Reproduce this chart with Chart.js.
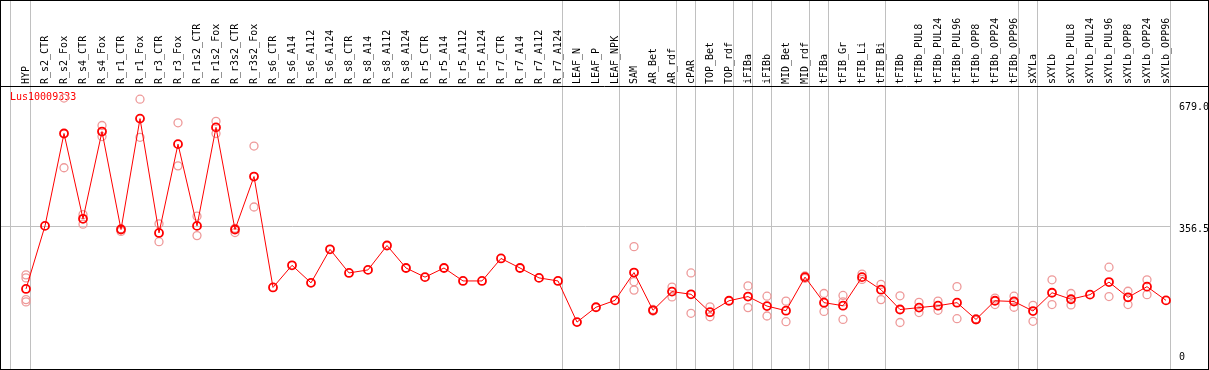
<!DOCTYPE html>
<html>
<head>
<meta charset="utf-8">
<script src="https://cdn.jsdelivr.net/npm/chart.js@4"></script>
<style>
  html, body { margin: 0; padding: 0; background: #fff; }
  canvas { display: block; }
</style>
</head>
<body>
<canvas id="geneChart" width="1209" height="370"></canvas>
<script>
// sample names along the top
const categories = ['HYP', 'R_s2_CTR', 'R_s2_Fox', 'R_s4_CTR', 'R_s4_Fox', 'R_r1_CTR', 'R_r1_Fox',
  'R_r3_CTR', 'R_r3_Fox', 'R_r1s2_CTR', 'R_r1s2_Fox', 'R_r3s2_CTR', 'R_r3s2_Fox', 'R_s6_CTR',
  'R_s6_A14', 'R_s6_A112', 'R_s6_A124', 'R_s8_CTR', 'R_s8_A14', 'R_s8_A112', 'R_s8_A124',
  'R_r5_CTR', 'R_r5_A14', 'R_r5_A112', 'R_r5_A124', 'R_r7_CTR', 'R_r7_A14', 'R_r7_A112', 'R_r7_A124',
  'LEAF_N', 'LEAF_P', 'LEAF_NPK', 'SAM', 'AR_Bet', 'AR_rdf', 'cPAR', 'TOP_Bet', 'TOP_rdf',
  'iFIBa', 'iFIBb', 'MID_Bet', 'MID_rdf', 'tFIBa', 'tFIB_Gr', 'tFIB_Li', 'tFIB_Bi', 'tFIBb',
  'tFIBb_PUL8', 'tFIBb_PUL24', 'tFIBb_PUL96', 'tFIBb_OPP8', 'tFIBb_OPP24', 'tFIBb_OPP96',
  'sXYLa', 'sXYLb', 'sXYLb_PUL8', 'sXYLb_PUL24', 'sXYLb_PUL96', 'sXYLb_OPP8', 'sXYLb_OPP24', 'sXYLb_OPP96'];

// mean expression (red line)
const meanValues = [191, 356.5, 599, 375, 604, 347, 638, 338, 571, 356.5, 615, 347, 486, 195,
  253, 207, 295, 233, 241, 305, 246, 222, 246, 212, 212, 271, 246, 220, 212,
  104, 143, 161, 234, 135, 184, 177, 130, 160, 171, 146, 134, 222, 155, 147, 222, 189, 137,
  142, 147, 155, 111, 160, 158, 133, 181, 164, 176, 209, 169, 197, 161];

// replicates (pale circles)
const rep1 = [228, null, 692, 386, 620, 349, 689, 362, 627, 382, 631, 350, 566, null,
  null, null, null, null, null, null, null, null, null, null, null, null, null, null, null,
  null, null, null, 302, 137, 196, 233, 144, null, 199, 172, 159, 225, 179, 174, 230, 203, 173,
  156, 159, 197, 113, 167, 172, 148, 215, 179, null, 248, 185, 215, null];
const rep2 = [157, null, 509, 361, 591, 342, 589, 315, 514, 331, 599, 339, 406, null,
  null, null, null, null, null, null, null, null, null, null, null, null, null, null, null,
  null, null, null, 188, 133, 170, 127, 118, null, 142, 120, 105, 219, 132, 111, 216, 163, 103,
  129, 135, 113, 110, 150, 143, 106, 150, 149, null, 171, 150, 176, null];
const rep3 = [220, null, null, null, null, null, null, null, null, null, null, null, null, null,
  null, null, null, null, null, null, null, null, null, null, null, null, null, null, null,
  null, null, null, 210, null, null, null, null, null, null, null, null, null, null, 157, null, null, null,
  null, null, null, null, null, null, null, null, null, null, null, null, null, null];
const rep4 = [163, null, null, null, null, null, null, null, null, null, null, null, null, null,
  null, null, null, null, null, null, null, null, null, null, null, null, null, null, null,
  null, null, null, null, null, null, null, null, null, null, null, null, null, null, null, null, null, null,
  null, null, null, null, null, null, null, null, null, null, null, null, null, null];

// y axis labels (bottom one sits a little below the gene minimum)
const yTicks = [22, 356.5, 679];
const yTickLabels = ['0', '356.5', '679.0'];

// last sample of each tissue group (separator drawn after it)
const groupEnds = [0, 28, 31, 34, 35, 37, 38, 39, 41, 42, 45, 52, 53, 60];

const geneName = 'Lus10009333';
const monoFont = { family: 'DejaVu Sans Mono', size: 10 };

// frame, separators, gene name
const framePlugin = {
    id: 'frame',
    beforeDraw(chart) {
        const ctx = chart.ctx;
        ctx.save();
        ctx.fillStyle = '#fff';
        ctx.fillRect(0, 0, chart.width, chart.height);
        ctx.restore();
    },
    beforeDatasetsDraw(chart) {
        const ctx = chart.ctx;
        const xs = chart.scales.x;
        const ys = chart.scales.y;
        ctx.save();
        ctx.strokeStyle = '#c0c0c0';
        ctx.lineWidth = 1;
        const lines = [xs.getPixelForValue(0) - 16];
        groupEnds.forEach(i => lines.push(xs.getPixelForValue(i) + 4));
        lines.forEach(px => {
            const x = Math.round(px) + 0.5;
            ctx.beginPath();
            ctx.moveTo(x, 0);
            ctx.lineTo(x, chart.height);
            ctx.stroke();
        });
        const lastLine = Math.round(lines[lines.length - 1]) + 0.5;
        const my = Math.round(ys.getPixelForValue(yTicks[1])) + 0.5;
        ctx.beginPath();
        ctx.moveTo(0, my);
        ctx.lineTo(lastLine, my);
        ctx.stroke();

        // black frame
        ctx.strokeStyle = '#000';
        ctx.strokeRect(0.5, 0.5, chart.width - 1, chart.height - 1);
        const top = Math.round(chart.chartArea.top) + 0.5;
        ctx.beginPath();
        ctx.moveTo(0, top);
        ctx.lineTo(chart.width, top);
        ctx.stroke();

        ctx.fillStyle = '#ff0000';
        ctx.font = '10px "DejaVu Sans Mono"';
        ctx.textBaseline = 'middle';
        ctx.fillText(geneName, 10, top + 11);
        ctx.restore();
    }
};

const repStyle = {
    showLine: false,
    borderColor: '#ee9a9a',
    backgroundColor: 'rgba(0,0,0,0)',
    pointRadius: 4,
    pointBorderWidth: 1.3,
    pointHoverRadius: 4
};

const ctx = document.getElementById('geneChart').getContext('2d');

const geneChart = new Chart(ctx, {
    type: 'line',
    data: {
        labels: categories,
        datasets: [
            {
                data: meanValues,
                borderColor: '#ff0000',
                borderWidth: 1,
                backgroundColor: 'rgba(0,0,0,0)',
                pointRadius: 4,
                pointBorderWidth: 1.8,
                pointBorderColor: '#ff0000',
                tension: 0
            },
            Object.assign({ data: rep1 }, repStyle),
            Object.assign({ data: rep2 }, repStyle),
            Object.assign({ data: rep3 }, repStyle),
            Object.assign({ data: rep4 }, repStyle)
        ]
    },
    options: {
        responsive: false,
        animation: false,
        layout: { padding: { left: 26, right: 0, top: 0, bottom: 1 } },
        plugins: {
            legend: { display: false },
            tooltip: { enabled: false }
        },
        scales: {
            x: {
                type: 'category',
                position: 'top',
                offset: false,
                grid: { display: false, drawTicks: false },
                border: { display: false },
                ticks: {
                    autoSkip: false,
                    minRotation: 90,
                    maxRotation: 90,
                    padding: 2,
                    labelOffset: 12,
                    color: '#000',
                    font: monoFont
                },
                afterFit(scale) {
                    scale.height = 86;
                    scale.paddingLeft = 0;
                    scale.paddingRight = 0;
                }
            },
            y: {
                position: 'right',
                min: -6.5,
                max: 723.6,
                grid: { display: false, drawTicks: false },
                border: { display: false },
                afterBuildTicks(scale) {
                    scale.ticks = yTicks.map(v => ({ value: v }));
                },
                ticks: {
                    padding: 13,
                    labelOffset: 4,
                    color: '#000',
                    font: monoFont,
                    callback: function(value) {
                        const i = yTicks.indexOf(value);
                        return i >= 0 ? yTickLabels[i] : '';
                    }
                },
                afterFit(scale) {
                    scale.width = 43;
                    scale.paddingTop = 0;
                    scale.paddingBottom = 0;
                }
            }
        }
    },
    plugins: [framePlugin]
});
</script>
</body>
</html>
